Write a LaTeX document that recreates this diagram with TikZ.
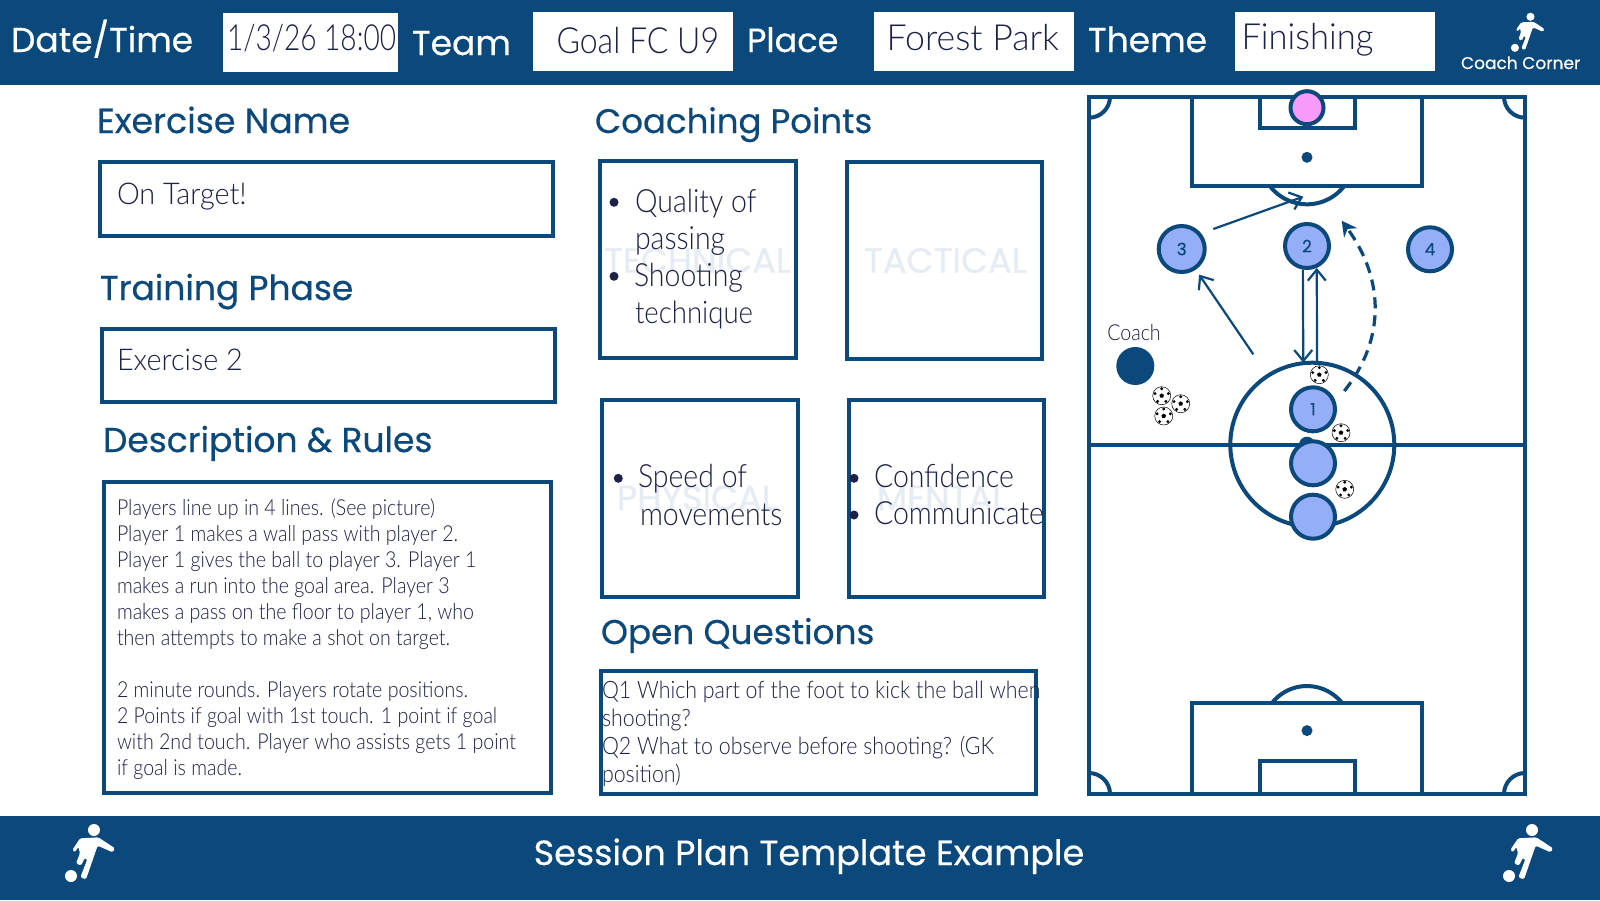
\documentclass[tikz,border=0pt]{standalone}
\usepackage{fontspec}
\usetikzlibrary{arrows.meta}
\newfontfamily\headf[FakeBold=0.5]{Poppins}
\newfontfamily\handf[FakeStretch=0.89]{Lato Light}
\newfontfamily\handn[FakeStretch=0.78]{Lato Light}
\newfontfamily\handw[FakeStretch=0.96]{Lato Light}
\newfontfamily\handx[FakeStretch=0.99]{Lato Light}
\definecolor{navy}{HTML}{0B487C}
\definecolor{ink}{HTML}{1C2148}
\definecolor{playerblue}{HTML}{94AEF7}
\definecolor{gkpink}{HTML}{F79BFB}
\definecolor{water}{HTML}{E6ECF3}
\tikzset{
  x=1pt,y=1pt,
  lbl/.style={inner sep=0,outer sep=0,anchor=base west},
  head/.style={lbl,font=\headf\fontsize{#1}{#1}\selectfont,text=navy},
  whead/.style={lbl,font=\headf\fontsize{#1}{#1}\selectfont,text=white},
  hand/.style={lbl,font=\handf\fontsize{#1}{#1}\selectfont,text=ink},
  handwide/.style={lbl,font=\handw\fontsize{#1}{#1}\selectfont,text=ink},
  mark/.style={lbl,font=\headf\fontsize{#1}{#1}\selectfont,text=water},
  panel/.style={draw=navy,line width=4pt,fill=white},
  whitebox/.style={fill=white,draw=none},
  pline/.style={draw=navy,line width=4pt},
  player/.style={circle,draw=navy,line width=4pt,fill=playerblue,minimum size=#1,inner sep=0,text=navy,font=\headf\fontsize{17}{17}\selectfont},
  bull/.style={circle,fill=ink,inner sep=0,minimum size=9pt},
  arrowline/.style={draw=navy,line width=2.2pt,-{Straight Barb[length=11pt,width=18pt,line width=2.2pt]}},
  dashline/.style={draw=navy,line width=3.2pt,dash pattern=on 11pt off 7pt,-{Stealth[length=15pt,width=16pt]}},
  kicker/.pic={
    \fill[white] (282,-90) circle[radius=18];
    \fill[white] (213,-228) circle[radius=18];
    \fill[white,rounded corners=1.5pt] (240,-115)--(295,-112)--(345,-145)--(338,-157)--(293,-137)--(285,-160)--(258,-238)--(241,-232)--(262,-178)--(255,-173)--(243,-197)--(228,-190)--(240,-160)--(235,-140)--(225,-157)--(217,-150)--cycle;
  },
  ballpic/.pic={
    \draw[black,fill=white,line width=.5pt] (0,0) circle[radius=9];
    \fill[black] (90:2.4)--(162:2.4)--(234:2.4)--(306:2.4)--(18:2.4)--cycle;
    \foreach \a in {90,162,234,306,18}{\fill[black] (\a:7) circle[radius=1.6];}
  },
}
\begin{document}
\begin{tikzpicture}
\useasboundingbox (0,0) rectangle (1600,-900);
\fill[white] (0,0) rectangle (1600,-900);
% bars
\fill[navy] (0,0) rectangle (1600,-85);
\fill[navy] (0,-816) rectangle (1600,-900);
% header boxes
\fill[whitebox] (223,-12.7) rectangle (398,-72);
\fill[whitebox] (533,-11.7) rectangle (732.6,-71);
\fill[whitebox] (874,-11.7) rectangle (1073.5,-71);
\fill[whitebox] (1235,-11.7) rectangle (1435,-71);
\node[whead=34.5] (hdate) at (11,-52) {Date/Time};
\node[whead=34.5] (hteam) at (412,-55) {Team};
\node[whead=33.5] (hplace) at (747,-52) {Place};
\node[whead=34.5] (htheme) at (1088,-52) {Theme};
\node[lbl,text=ink,font=\handn\fontsize{36}{36}\selectfont] (vdate) at (227,-50) {1/3/26 18:00};
\node[hand=36] (vteam) at (556.5,-53) {Goal FC U9};
\node[lbl,text=ink,font=\handx\fontsize{36}{36}\selectfont] (vplace) at (886.5,-50) {Forest Park};
\node[handwide=36] (vtheme) at (1241.5,-49) {Finishing};
\node[whead=17] (brand) at (1461,-69) {Coach Corner};
\pic[scale=.225] at (1467,3.5) {kicker};
\pic[scale=.3333] at (0,-800) {kicker};
\pic[scale=.3333] at (1438,-800) {kicker};
\node[whead=35,anchor=base] (title) at (809,-865) {Session Plan Template Example};
% headings
\node[head=34.8] (h1) at (97,-133) {Exercise Name};
\node[head=34.5] (h2) at (100,-300) {Training Phase};
\node[head=34.5] (h3) at (103,-452) {Description \& Rules};
\node[head=34] (h4) at (595,-133) {Coaching Points};
\node[head=34.3] (h5) at (601,-644) {Open Questions};
% left panels
\draw[panel] (99.5,-162) rectangle (552.5,-236);
\draw[panel] (101.5,-329) rectangle (554.5,-402);
\draw[panel] (104,-482) rectangle (551,-793);
\node[handwide=30] (t1) at (117,-204) {On Target!};
\node[handwide=30] (t2) at (117,-370) {Exercise 2};
\node[hand=22,align=left,anchor=north west,font=\handf\fontsize{22}{26}\selectfont] (t3) at (117,-499) {Players line up in 4 lines. (See picture)\\
Player 1 makes a wall pass with player 2.\\
Player 1 gives the ball to player 3. Player 1\\
makes a run into the goal area. Player 3\\
makes a pass on the floor to player 1, who\\
then attempts to make a shot on target.\\[26pt]
2 minute rounds. Players rotate positions.\\
2 Points if goal with 1st touch. 1 point if goal\\
with 2nd touch. Player who assists gets 1 point\\
if goal is made.};
% coaching boxes
\draw[panel] (600,-161.3) rectangle (795.7,-358.3);
\draw[panel] (846.7,-162) rectangle (1042.3,-359);
\draw[panel] (602,-400.3) rectangle (797.7,-597);
\draw[panel] (848.7,-400.3) rectangle (1044,-597);
\node[mark=35] (m1) at (604,-272.7) {TECHNICAL};
\node[mark=35] (m2) at (864,-272.7) {TACTICAL};
\node[mark=35] (m3) at (617,-510) {PHYSICAL};
\node[mark=35] (m4) at (877,-510) {MENTAL};
\node[bull] (b1) at (614,-202.3) {};
\node[bull] (b2) at (614,-276.3) {};
\node[bull] (b3) at (618.3,-478.3) {};
\node[bull] (b4) at (854,-478.3) {};
\node[bull] (b5) at (854,-515) {};
\node[hand=32] (c1) at (635,-212.3) {Quality of};
\node[hand=32] (c2) at (635,-249) {passing};
\node[hand=32] (c3) at (634,-286) {Shooting};
\node[hand=31] (c4) at (635,-323.3) {technique};
\node[hand=32] (c5) at (638,-487) {Speed of};
\node[hand=32] (c6) at (640,-525) {movements};
\node[hand=32] (c7) at (874,-487) {Confidence};
\node[hand=32] (c8) at (874,-524) {Communicate};
% open questions
\draw[panel] (601,-671) rectangle (1035.5,-794);
\node[hand=24,align=left,anchor=north west,font=\handf\fontsize{24}{28}\selectfont] (q) at (602,-681) {Q1 Which part of the foot to kick the ball when\\
shooting?\\
Q2 What to observe before shooting? (GK\\
position)};
% pitch
\draw[pline] (1089,-96.7) rectangle (1525,-794);
\draw[pline] (1089,-444.7) -- (1525,-444.7);
\draw[pline] (1192.3,-96.7) rectangle (1421.7,-186);
\draw[pline] (1260,-96.7) rectangle (1354.7,-128);
\draw[pline] (1192.3,-794) rectangle (1421.7,-703);
\draw[pline] (1260,-794) rectangle (1354.7,-761);
\fill[navy] (1307,-157.3) circle[radius=5.5];
\fill[navy] (1307,-730.6) circle[radius=5.5];
\fill[navy] (1307,-444.7) circle[radius=8];
\draw[pline] (1307,-157.3) ++(-38.5:47) arc[start angle=-38.5,end angle=-141.5,radius=47];
\draw[pline] (1307,-730.6) ++(38.5:44.6) arc[start angle=38.5,end angle=141.5,radius=44.6];
\draw[pline] (1089,-117.7) arc[start angle=-90,end angle=0,radius=21];
\draw[pline] (1504,-96.7) arc[start angle=180,end angle=270,radius=21];
\draw[pline] (1110,-794) arc[start angle=0,end angle=90,radius=21];
\draw[pline] (1525,-773) arc[start angle=90,end angle=180,radius=21];
\draw[pline] (1312.3,-444.7) circle[radius=82];
% players
\node[player=46pt] (p3) at (1181.7,-249) {3};
\node[player=44pt] (p2) at (1307,-246) {2};
\node[player=44pt] (p4) at (1430,-249.3) {4};
\node[player=44pt] (p1) at (1313,-409.3) {1};
\node[player=44pt] (p5) at (1313,-463.3) {};
\node[player=44pt] (p6) at (1313,-516.7) {};
\node[player=33pt,fill=gkpink] (gk) at (1307,-107.7) {};
\node[circle,fill=navy,inner sep=0,minimum size=38pt] (coach) at (1135.3,-366) {};
\node[hand=22,anchor=base] (coachl) at (1134,-340) {Coach};
% balls
\pic at (1319.3,-374.7) {ballpic};
\pic at (1161.7,-395.7) {ballpic};
\pic at (1180.7,-403.7) {ballpic};
\pic at (1163.7,-416) {ballpic};
\pic at (1341,-432.7) {ballpic};
\pic at (1344.7,-489.3) {ballpic};
% arrows
\coordinate (a3s) at (1213.3,-229);
\coordinate (a3e) at (1303.3,-196.7);
\coordinate (a1s) at (1253.3,-354.3);
\coordinate (d2e) at (1303.3,-362.7);
\coordinate (u2s) at (1317,-361.7);
\coordinate (rs) at (1344.3,-391);
\coordinate (re) at (1341.7,-220.7);
\draw[arrowline] (a3s) -- (a3e);
\draw[arrowline,shorten >=6pt] (a1s) -- (p3);
\draw[arrowline] (p2.-100) -- (d2e);
\draw[arrowline] (u2s) -- (p2.-66);
\draw[dashline] (rs) .. controls (1385,-340) and (1385,-280) .. (re);
\end{tikzpicture}
\end{document}
